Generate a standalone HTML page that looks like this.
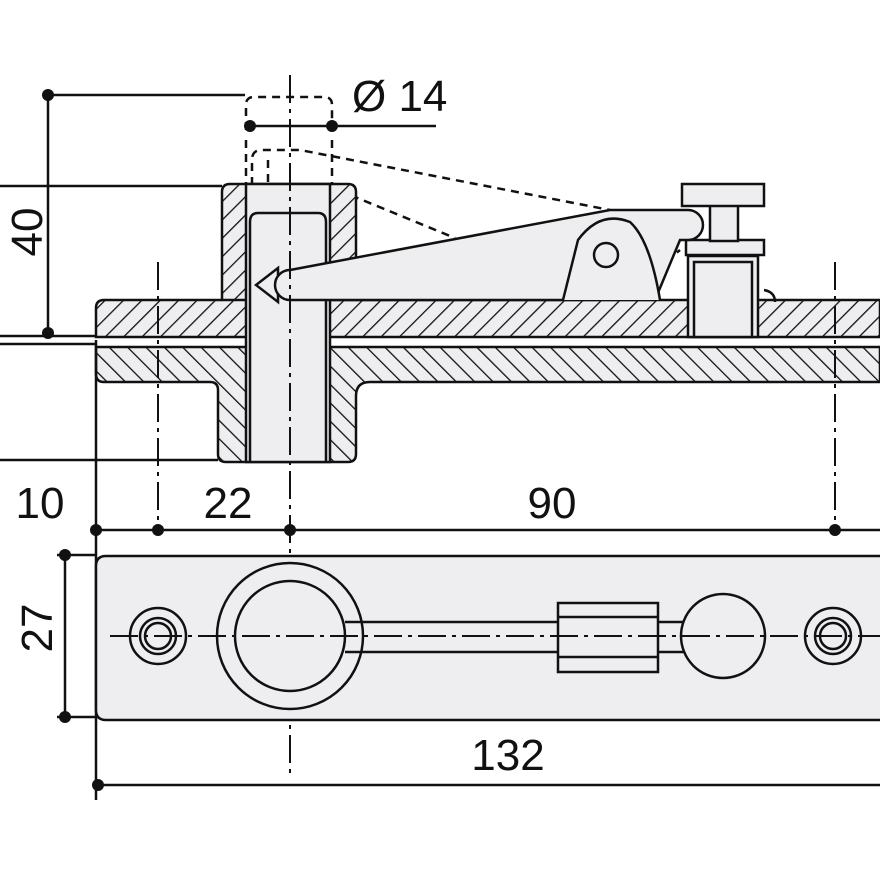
<!DOCTYPE html><html><head><style>body{margin:0;background:#fff}svg{display:block}text{font-family:"Liberation Sans",sans-serif;fill:#111}</style></head><body>
<svg width="880" height="880" viewBox="0 0 880 880" xmlns="http://www.w3.org/2000/svg">
<defs>
<pattern id="h1" width="13" height="13" patternUnits="userSpaceOnUse" patternTransform="rotate(45)"><rect width="13" height="13" fill="#eeeef0"/><line x1="0" y1="0" x2="0" y2="13" stroke="#111" stroke-width="2.6"/></pattern>
<pattern id="h2" width="13" height="13" patternUnits="userSpaceOnUse" patternTransform="rotate(-45)"><rect width="13" height="13" fill="#eeeef0"/><line x1="0" y1="0" x2="0" y2="13" stroke="#111" stroke-width="2.6"/></pattern>
</defs>
<g stroke="#111" stroke-width="2.5" fill="none">
<line x1="48" y1="95" x2="245" y2="95"/><line x1="48" y1="95" x2="48" y2="333"/>
<line x1="0" y1="186" x2="222" y2="186"/>
<line x1="248" y1="126" x2="436" y2="126"/>
<line x1="0" y1="336" x2="96" y2="336"/><line x1="0" y1="344" x2="96" y2="344"/>
<line x1="0" y1="460" x2="218" y2="460"/>
<g stroke-dasharray="8 6">
<path d="M246 130 V105 Q246 97 254 97 H324 Q332 97 332 105 V130"/>
<path d="M246 140 V184 M332 140 V184"/>
<path d="M252 185 V160 Q252 150 262 150 H300 L610 210"/>
<path d="M268 160 V186 M338 190 L455 238"/>
<path d="M250 343 H330"/>
<path d="M655 270 L680 250"/>
</g>
<path d="M356 300 H880 V337 H96 V308 Q96 300 104 300 H222" fill="url(#h1)"/>
<path d="M96 347 H880 V382 H370 Q356 382 356 396 V454 Q356 462 348 462 H226 Q218 462 218 454 V390 Q218 382 210 382 H104 Q96 382 96 374 Z" fill="url(#h2)"/>
<path d="M222 300 V192 Q222 184 230 184 H348 Q356 184 356 192 V300 Z" fill="url(#h1)"/>
<rect x="246" y="184" width="84" height="278" fill="#eeeef0"/>
<path d="M250 462 V222 Q250 213 258 213 H318 Q326 213 326 222 V462" />
<rect x="688" y="256" width="70" height="81" fill="#eeeef0"/>
<rect x="694" y="262" width="58" height="75" fill="#eeeef0"/>
<path d="M764 290 Q775 292 775 302" />
<rect x="686" y="240" width="78" height="15" fill="#eeeef0"/>
<rect x="710" y="205" width="28" height="36" fill="#eeeef0"/>
<rect x="682" y="184" width="82" height="22" fill="#eeeef0"/>
<path d="M278 268 L256 285 L278 302 Z" fill="#eeeef0"/>
<path d="M290 270 L610 210 H688 A15 15 0 0 1 688 240 L680 240 L655 300 H290 A15 15 0 0 1 290 270 Z" fill="#eeeef0"/>
<path d="M563 300 L578 240 Q600 210 630 222 Q650 240 660 300" fill="#eeeef0"/>
<circle cx="606" cy="255" r="12" fill="#eeeef0"/>
<g stroke-width="2" stroke-dasharray="28 6 4 6">
<line x1="290" y1="75" x2="290" y2="775"/>
<line x1="158" y1="262" x2="158" y2="530"/>
<line x1="835" y1="262" x2="835" y2="530"/>
</g>
<line x1="96" y1="340" x2="96" y2="800"/>
<line x1="96" y1="530" x2="880" y2="530"/>
<path d="M880 556 H106 Q96 556 96 566 V710 Q96 720 106 720 H880" fill="#eeeef0"/>
<line x1="57" y1="555" x2="96" y2="555"/><line x1="57" y1="717" x2="96" y2="717"/>
<line x1="65" y1="555" x2="65" y2="717"/>
<circle cx="158" cy="636" r="28"/><circle cx="158" cy="636" r="18"/><circle cx="158" cy="636" r="13"/>
<circle cx="833" cy="636" r="28"/><circle cx="833" cy="636" r="18"/><circle cx="833" cy="636" r="13"/>
<circle cx="290" cy="636" r="73"/><circle cx="290" cy="636" r="55"/>
<path d="M345 622 H700 M345 652 H700"/>
<rect x="558" y="603" width="100" height="69" fill="#eeeef0"/>
<path d="M558 617 H658 M558 657 H658"/>
<circle cx="723" cy="636" r="42" fill="#eeeef0"/>
<line x1="110" y1="636" x2="880" y2="636" stroke-width="2" stroke-dasharray="28 6 4 6"/>
<line x1="98" y1="785" x2="880" y2="785"/>
</g>
<g fill="#111">
<circle cx="48" cy="95" r="6"/><circle cx="48" cy="333" r="6"/>
<circle cx="250" cy="126" r="6"/><circle cx="332" cy="126" r="6"/>
<circle cx="96" cy="530" r="6"/><circle cx="158" cy="530" r="6"/><circle cx="290" cy="530" r="6"/><circle cx="835" cy="530" r="6"/>
<circle cx="65" cy="555" r="6"/><circle cx="65" cy="717" r="6"/><circle cx="98" cy="785" r="6"/>
</g>
<text x="352" y="111" font-size="44">Ø 14</text>
<text x="42" y="232" font-size="44" transform="rotate(-90 42 232)" text-anchor="middle">40</text>
<text x="40" y="518" font-size="44" text-anchor="middle">10</text>
<text x="228" y="518" font-size="44" text-anchor="middle">22</text>
<text x="552" y="518" font-size="44" text-anchor="middle">90</text>
<text x="52" y="628" font-size="44" transform="rotate(-90 52 628)" text-anchor="middle">27</text>
<text x="508" y="770" font-size="44" text-anchor="middle">132</text>
</svg></body></html>
